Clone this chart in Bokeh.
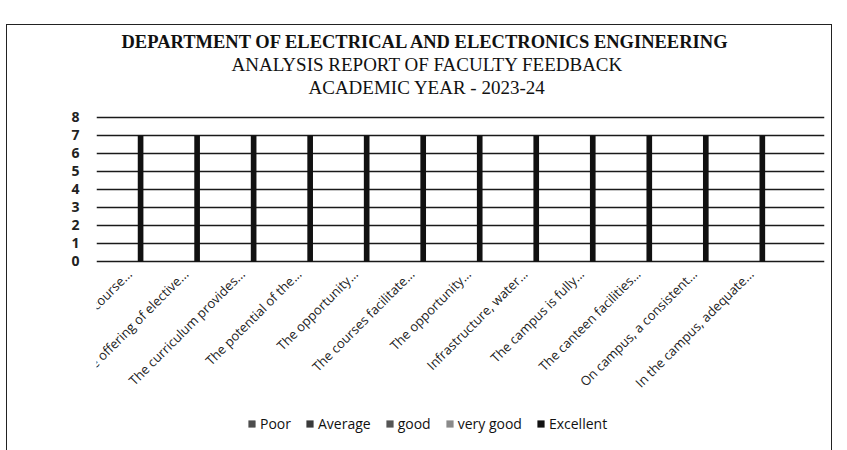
from bokeh.plotting import figure
from bokeh.models import Range1d, FixedTicker, Title, Legend, LegendItem, ColumnDataSource
from bokeh.embed import file_html
from bokeh.resources import INLINE
import math

categories = ["The practical course...", "The offering of elective...", "The curriculum provides...",
              "The potential of the...", "The opportunity...", "The courses facilitate...",
              "The opportunity...", "Infrastructure, water...", "The campus is fully...",
              "The canteen facilities...", "On campus, a consistent...", "In the campus, adequate..."]
series_names = ["Poor", "Average", "good", "very good", "Excellent"]
poor = [0] * 12
average = [0] * 12
good = [0] * 12
very_good = [0] * 12
excellent = [7, 7, 7, 7, 7, 7, 7, 7, 7, 7, 7, 7]
y_ticks = [0, 1, 2, 3, 4, 5, 6, 7, 8]

series_values = [poor, average, good, very_good, excellent]
colors = ["#4d4d4d", "#3a3a3a", "#555555", "#8a8a8a", "#111111"]

p = figure(frame_width=728, frame_height=347, output_backend="svg", toolbar_location=None,
           x_range=Range1d(0.42, 13.3), y_range=Range1d(-10.17, 9.11),
           min_border_left=89, min_border_right=7, min_border_bottom=10, min_border_top=72)
p.styles = {"border": "1.5px solid #222", "margin-top": "24px", "margin-left": "6px"}

xs = list(range(1, 13))
offsets = [-0.2, -0.1, 0.0, 0.1, 0.2]
items = []
for name, vals, col, off in zip(series_names, series_values, colors, offsets):
    src = ColumnDataSource(dict(x=[x + off for x in xs], top=vals))
    r = p.vbar(x="x", top="top", bottom=0, width=0.1, source=src, fill_color=col, line_color=None)
    items.append(LegendItem(label=name, renderers=[r]))

p.xaxis.ticker = FixedTicker(ticks=xs)
p.xaxis.fixed_location = 0
p.xaxis.major_label_overrides = {i + 1: c for i, c in enumerate(categories)}
p.xaxis.major_label_orientation = math.pi / 4
p.xaxis.major_label_text_font = "Open Sans"
p.xaxis.major_label_text_font_size = "13px"
p.xaxis.major_label_text_color = "#222222"
p.xaxis.axis_line_color = None
p.xaxis.major_tick_line_color = None
p.xaxis.minor_tick_line_color = None
p.xaxis.major_label_standoff = 4

p.yaxis.ticker = FixedTicker(ticks=y_ticks)
p.yaxis.major_label_text_font = "Open Sans"
p.yaxis.major_label_text_font_size = "14px"
p.yaxis.major_label_text_font_style = "bold"
p.yaxis.major_label_text_color = "#222222"
p.yaxis.axis_line_color = None
p.yaxis.major_tick_line_color = None
p.yaxis.minor_tick_line_color = None
p.yaxis.major_label_standoff = 11

p.xgrid.grid_line_color = None
p.ygrid.grid_line_color = "#1a1a1a"
p.ygrid.grid_line_width = 1.6
p.outline_line_color = None

legend = Legend(items=items, orientation="horizontal", location=(151, 11),
                label_text_font="Open Sans", label_text_font_size="14px",
                label_text_color="#111111", glyph_width=9, glyph_height=9,
                spacing=14, label_standoff=4, margin=0, padding=4, border_line_color=None,
                background_fill_alpha=0)
p.add_layout(legend, "center")

t3 = Title(text="ACADEMIC YEAR - 2023-24", align="left", text_font="Liberation Serif",
           text_font_size="19px", text_font_style="normal", text_color="#111111", offset=212, standoff=0)
t2 = Title(text="ANALYSIS  REPORT OF FACULTY FEEDBACK", align="left", text_font="Liberation Serif",
           text_font_size="19px", text_font_style="normal", text_color="#111111", offset=135, standoff=0)
t1 = Title(text="DEPARTMENT OF ELECTRICAL AND ELECTRONICS ENGINEERING", align="left",
           text_font="Liberation Serif", text_font_size="18.5px", text_font_style="bold",
           text_color="#111111", offset=25, standoff=0)
p.title = None
p.add_layout(t3, "above")
p.add_layout(t2, "above")
p.add_layout(t1, "above")

open("out.html", "w").write(file_html(p, INLINE))
